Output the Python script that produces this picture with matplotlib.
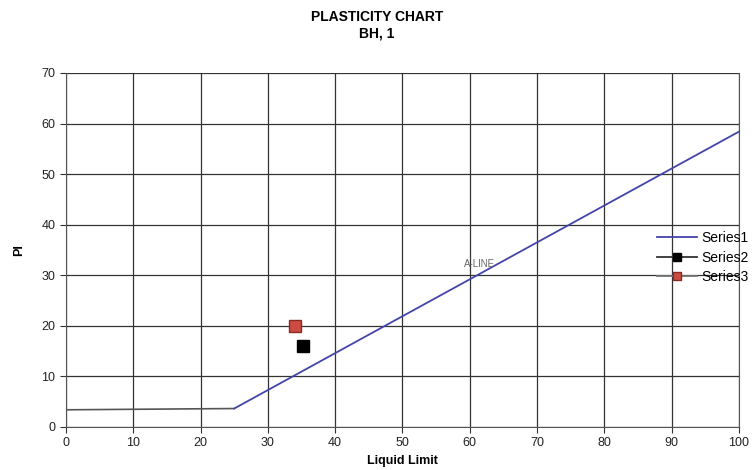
import numpy as np
import matplotlib
matplotlib.use("Agg")
import matplotlib.pyplot as plt
from matplotlib.lines import Line2D

plt.rcParams['font.family'] = ['Liberation Sans', 'DejaVu Sans']

# A-line (Series1): PI = 0.73*(LL-20) from LL=25 to 100
aline_ll = [25, 100]
aline_pi = [0.73 * (v - 20) for v in aline_ll]
# horizontal part below LL=25
flat_ll = [0, 25]
flat_pi = [3.4, 3.65]
# sample points
s2_ll, s2_pi = [35.2], [16.1]
s3_ll, s3_pi = [34.0], [20.0]

fig = plt.figure(figsize=(7.54, 4.70), dpi=100)
ax = fig.add_axes([0.0875, 0.0915, 0.8925, 0.7532])

ax.set_xlim(0, 100)
ax.set_ylim(0, 70)
ax.set_xticks(np.arange(0, 101, 10))
ax.set_yticks(np.arange(0, 71, 10))
ax.grid(True, color='#333333', linewidth=0.9)
ax.set_axisbelow(True)
for s in ax.spines.values():
    s.set_color('#555555')
    s.set_linewidth(0.8)
ax.spines['top'].set_visible(False)
ax.tick_params(axis='both', direction='out', length=4, colors='#333333',
               labelsize=9, labelcolor='#222222')

ax.plot(flat_ll, flat_pi, color='#555555', linewidth=1.2)
ax.plot(aline_ll, aline_pi, color='#4444aa', linewidth=1.3)
ax.plot(s2_ll, s2_pi, linestyle='none', marker='s', markersize=8,
        markerfacecolor='black', markeredgecolor='black')
ax.plot(s3_ll, s3_pi, linestyle='none', marker='s', markersize=9,
        markerfacecolor='#cc4c44', markeredgecolor='#8a2a24')

ax.text(61.5, 32.3, 'A-LINE', fontsize=7, color='#666666', ha='center', va='center')

fig.text(0.5, 0.964, 'PLASTICITY CHART', ha='center', va='center',
         fontsize=10, fontweight='bold')
fig.text(0.5, 0.929, 'BH, 1', ha='center', va='center',
         fontsize=10, fontweight='bold')
ax.set_xlabel('Liquid Limit', fontsize=9, fontweight='bold', labelpad=4)
ax.set_ylabel('PI', fontsize=9, fontweight='bold', labelpad=12)

handles = [
    Line2D([], [], color='#4444aa', linewidth=1.3),
    Line2D([], [], color='#333333', linewidth=1.3, marker='s', markersize=6,
           markerfacecolor='black', markeredgecolor='black'),
    Line2D([], [], color='#777777', linewidth=1.3, marker='s', markersize=6,
           markerfacecolor='#cc4c44', markeredgecolor='#8a2a24'),
]
fig.legend(handles, ['Series1', 'Series2', 'Series3'], loc='center left',
           bbox_to_anchor=(0.871, 0.452), frameon=False, fontsize=10,
           handlelength=2.9, handletextpad=0.3, labelspacing=0.4,
           borderpad=0, borderaxespad=0)

fig.savefig('out.png', dpi=100)
